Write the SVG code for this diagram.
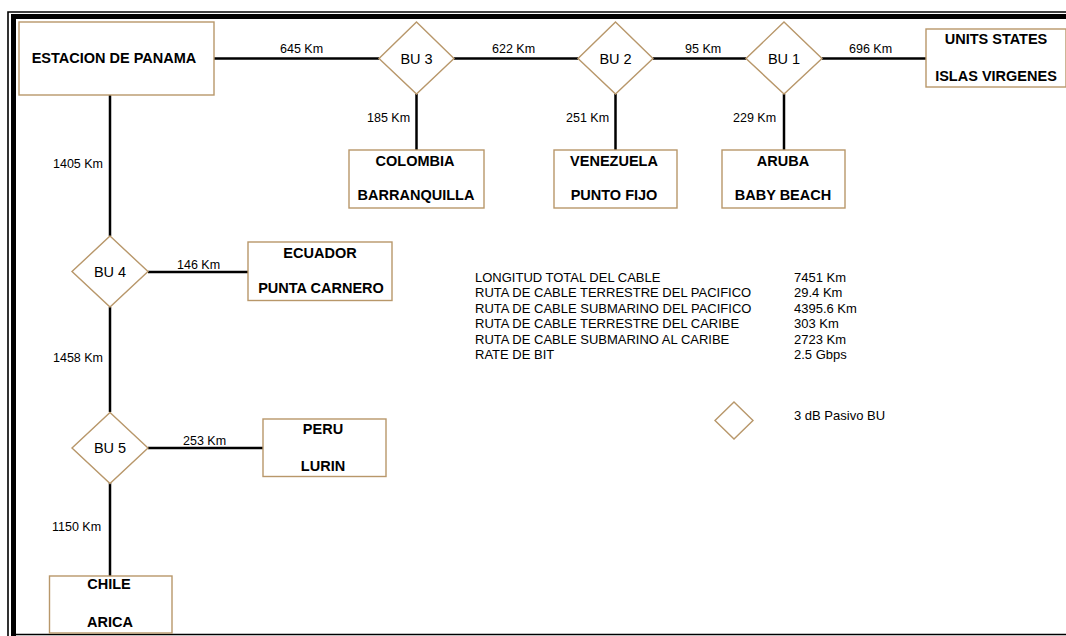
<svg xmlns="http://www.w3.org/2000/svg" width="1066" height="636" viewBox="0 0 1066 636">
<style>
.box{fill:#fff;stroke:#b8976a;stroke-width:1.4}
.dia{fill:#fff;stroke:#b8976a;stroke-width:1.4}
.ln{stroke:#000;stroke-width:2.5;fill:none}
.t{font-family:"Liberation Sans",Arial,sans-serif;font-weight:bold;font-size:14.5px;fill:#000;text-anchor:middle}
.bu{font-family:"Liberation Sans",Arial,sans-serif;font-size:14.5px;fill:#000;text-anchor:middle}
.km{font-family:"Liberation Sans",Arial,sans-serif;font-size:12.5px;fill:#000}
.lg{font-family:"Liberation Sans",Arial,sans-serif;font-size:13px;fill:#000}
</style>
<rect width="1066" height="636" fill="#fff"/>
<g id="frame">
<path d="M8,636 V12 H1066" fill="none" stroke="#000" stroke-width="1.6"/>
<path d="M13.5,636 V16.5 H1066" fill="none" stroke="#000" stroke-width="5"/>
<line x1="16" y1="634.5" x2="1066" y2="634.5" stroke="#000" stroke-width="1.6"/>
</g>
<g id="connectors">
<line class="ln" x1="214" y1="58.5" x2="379" y2="58.5"/>
<line class="ln" x1="454" y1="58.5" x2="578" y2="58.5"/>
<line class="ln" x1="653" y1="58.5" x2="746" y2="58.5"/>
<line class="ln" x1="822" y1="58.5" x2="926" y2="58.5"/>
<line class="ln" x1="416.5" y1="94" x2="416.5" y2="150"/>
<line class="ln" x1="615.5" y1="94" x2="615.5" y2="150"/>
<line class="ln" x1="784" y1="94" x2="784" y2="150"/>
<line class="ln" x1="110" y1="95" x2="110" y2="236"/>
<line class="ln" x1="148" y1="272" x2="248" y2="272"/>
<line class="ln" x1="110" y1="307" x2="110" y2="412"/>
<line class="ln" x1="148" y1="448" x2="264" y2="448"/>
<line class="ln" x1="110" y1="483" x2="110" y2="576"/>
<text class="km" x="280" y="53">645 Km</text>
<text class="km" x="492" y="53">622 Km</text>
<text class="km" x="685" y="53">95 Km</text>
<text class="km" x="849" y="53">696 Km</text>
<text class="km" x="367" y="122">185 Km</text>
<text class="km" x="566" y="122">251 Km</text>
<text class="km" x="733" y="122">229 Km</text>
<text class="km" x="53" y="168">1405 Km</text>
<text class="km" x="177" y="269">146 Km</text>
<text class="km" x="53" y="362">1458 Km</text>
<text class="km" x="183" y="445">253 Km</text>
<text class="km" x="52" y="531">1150 Km</text>
</g>
<g id="panama">
<rect class="box" x="19" y="22" width="195" height="73"/>
<text class="t" x="114" y="63">ESTACION DE PANAMA</text>
</g>
<g id="bu3">
<polygon class="dia" points="416.5,22 454,58.5 416.5,94 379,58.5"/>
<text class="bu" x="416.5" y="64">BU 3</text>
</g>
<g id="bu2">
<polygon class="dia" points="615.5,22 653,58.5 615.5,94 578,58.5"/>
<text class="bu" x="615.5" y="64">BU 2</text>
</g>
<g id="bu1">
<polygon class="dia" points="784,22 822,58.5 784,94 746,58.5"/>
<text class="bu" x="784" y="64">BU 1</text>
</g>
<g id="usa">
<rect class="box" x="926" y="29" width="140" height="58"/>
<text class="t" x="996" y="44">UNITS STATES</text>
<text class="t" x="996" y="81">ISLAS VIRGENES</text>
</g>
<g id="colombia">
<rect class="box" x="349" y="150" width="135" height="58"/>
<text class="t" x="415" y="166">COLOMBIA</text>
<text class="t" x="416" y="200">BARRANQUILLA</text>
</g>
<g id="venezuela">
<rect class="box" x="554" y="150" width="123" height="58"/>
<text class="t" x="614" y="166">VENEZUELA</text>
<text class="t" x="614" y="200">PUNTO FIJO</text>
</g>
<g id="aruba">
<rect class="box" x="722" y="150" width="123" height="58"/>
<text class="t" x="783" y="166">ARUBA</text>
<text class="t" x="783" y="200">BABY BEACH</text>
</g>
<g id="bu4">
<polygon class="dia" points="110,236 148,271.5 110,307 72,271.5"/>
<text class="bu" x="110" y="277">BU 4</text>
</g>
<g id="ecuador">
<rect class="box" x="248" y="242" width="144" height="58.5"/>
<text class="t" x="320" y="258">ECUADOR</text>
<text class="t" x="321" y="293">PUNTA CARNERO</text>
</g>
<g id="bu5">
<polygon class="dia" points="110,412.5 148,448 110,483.5 72,448"/>
<text class="bu" x="110" y="453">BU 5</text>
</g>
<g id="peru">
<rect class="box" x="263" y="419" width="123" height="57.5"/>
<text class="t" x="323" y="434">PERU</text>
<text class="t" x="323" y="471">LURIN</text>
</g>
<g id="chile">
<rect class="box" x="49.5" y="576" width="122.5" height="57"/>
<text class="t" x="109" y="589">CHILE</text>
<text class="t" x="110" y="627">ARICA</text>
</g>
<g id="legend">
<text class="lg" x="475" y="281.5">LONGITUD TOTAL DEL CABLE</text>
<text class="lg" x="475" y="297">RUTA DE CABLE TERRESTRE DEL PACIFICO</text>
<text class="lg" x="475" y="312.5">RUTA DE CABLE SUBMARINO DEL PACIFICO</text>
<text class="lg" x="475" y="328">RUTA DE CABLE TERRESTRE DEL CARIBE</text>
<text class="lg" x="475" y="343.5">RUTA DE CABLE SUBMARINO AL CARIBE</text>
<text class="lg" x="475" y="359">RATE DE BIT</text>
<text class="lg" x="794" y="281.5">7451 Km</text>
<text class="lg" x="794" y="297">29.4 Km</text>
<text class="lg" x="794" y="312.5">4395.6 Km</text>
<text class="lg" x="794" y="328">303 Km</text>
<text class="lg" x="794" y="343.5">2723 Km</text>
<text class="lg" x="794" y="359">2.5 Gbps</text>
<polygon class="dia" points="734,402 753,420.5 734,439 715,420.5"/>
<text class="lg" x="794" y="420">3 dB Pasivo BU</text>
</g>
</svg>
